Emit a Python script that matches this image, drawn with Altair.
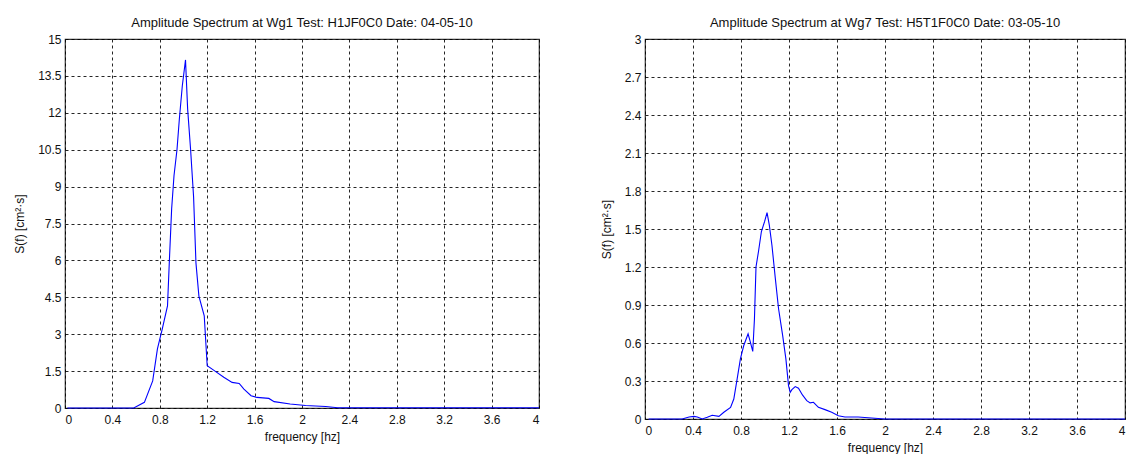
import altair as alt
import pandas as pd

# Left panel (Wg1)
f_left = [0.02, 0.58, 0.67, 0.74, 0.78, 0.82, 0.865, 0.88, 0.90, 0.92, 0.945, 0.965, 0.99, 1.017,
          1.035, 1.06, 1.085, 1.105, 1.13, 1.175, 1.20, 1.26, 1.34, 1.41, 1.47, 1.51, 1.57, 1.62,
          1.72, 1.765, 1.9, 2.03, 2.2, 2.3, 4.0]
v_left = [0, 0, 0.23, 1.1, 2.4, 3.2, 4.15, 5.9, 8.1, 9.45, 10.5, 11.75, 13.1, 14.15,
          12.15, 10.5, 8.6, 5.9, 4.55, 3.75, 1.72, 1.52, 1.25, 1.04, 1.0, 0.77, 0.5, 0.43,
          0.39, 0.26, 0.16, 0.1, 0.06, 0.01, 0.01]

# Right panel (Wg7)
f_right = [0.03, 0.31, 0.367, 0.408, 0.436, 0.477, 0.519, 0.56, 0.616, 0.657, 0.713, 0.74, 0.768,
           0.795, 0.823, 0.859, 0.878, 0.898, 0.912, 0.925, 0.947, 0.97, 0.997, 1.017, 1.036,
           1.058, 1.086, 1.113, 1.147, 1.174, 1.196, 1.21, 1.224, 1.252, 1.279, 1.312, 1.348,
           1.376, 1.404, 1.445, 1.5, 1.556, 1.611, 1.666, 1.776, 1.888, 1.999, 4.0]
v_right = [0, 0, 0.016, 0.021, 0.016, 0, 0.013, 0.029, 0.021, 0.053, 0.092, 0.158, 0.317,
           0.475, 0.58, 0.673, 0.607, 0.533, 0.79, 1.2, 1.33, 1.48, 1.56, 1.63, 1.53,
           1.37, 1.11, 0.87, 0.66, 0.475, 0.264, 0.211, 0.232, 0.256, 0.243, 0.19, 0.145,
           0.127, 0.132, 0.092, 0.074, 0.053, 0.026, 0.016, 0.016, 0.008, 0, 0]

x_ticks = [0, 0.4, 0.8, 1.2, 1.6, 2, 2.4, 2.8, 3.2, 3.6, 4]
y_ticks_left = [0, 1.5, 3, 4.5, 6, 7.5, 9, 10.5, 12, 13.5, 15]
y_ticks_right = [0, 0.3, 0.6, 0.9, 1.2, 1.5, 1.8, 2.1, 2.4, 2.7, 3]

title_left = "Amplitude Spectrum at Wg1 Test: H1JF0C0 Date: 04-05-10"
title_right = "Amplitude Spectrum at Wg7 Test: H5T1F0C0 Date: 03-05-10"
x_title = "frequency [hz]"
y_title = "S(f) [cm²·s]"

FONT = "Liberation Sans"


def panel(f, v, yticks, ymax, title, w, h, ytx):
    df = pd.DataFrame({"f": f, "v": v})
    return alt.Chart(df, title=alt.TitleParams(title, anchor="middle", frame="group", offset=3,
                                                fontSize=13, fontWeight="normal",
                                                font=FONT, color="#111")).mark_line(
        color="#0000ff", strokeWidth=1.1, interpolate="linear"
    ).encode(
        x=alt.X("f:Q", scale=alt.Scale(domain=[0, 4], nice=False, zero=False),
                axis=alt.Axis(values=x_ticks, title=x_title, format=".4~g",
                              titleY=28, titleBaseline="middle", labelPadding=6)),
        y=alt.Y("v:Q", scale=alt.Scale(domain=[0, ymax], nice=False),
                axis=alt.Axis(values=yticks, title=y_title, format=".4~g",
                              titleX=ytx, titleY=h / 2, titleBaseline="middle",
                              titleAlign="center", titleAngle=270)),
    ).properties(width=w, height=h)


left = panel(f_left, v_left, y_ticks_left, 15, title_left, 474, 369, -46)
right = panel(f_right, v_right, y_ticks_right, 3, title_right, 480, 380, -39)

chart = alt.hconcat(left, right, spacing=106, bounds="flush").properties(
    padding={"left": 12, "top": 16, "right": 0, "bottom": 0},
).configure_view(
    stroke="#333", strokeWidth=1.2
).configure_axis(
    grid=True, gridColor="black", gridDash=[3, 3], gridOpacity=0.85, gridWidth=1,
    domain=False, ticks=False,
    labelFont=FONT, labelFontSize=12, labelColor="#111", labelPadding=4,
    titleFont=FONT, titleFontSize=12, titleFontWeight="normal", titleColor="#111",
)

chart.save("out.html", embed_options={"renderer": "svg", "actions": False})
